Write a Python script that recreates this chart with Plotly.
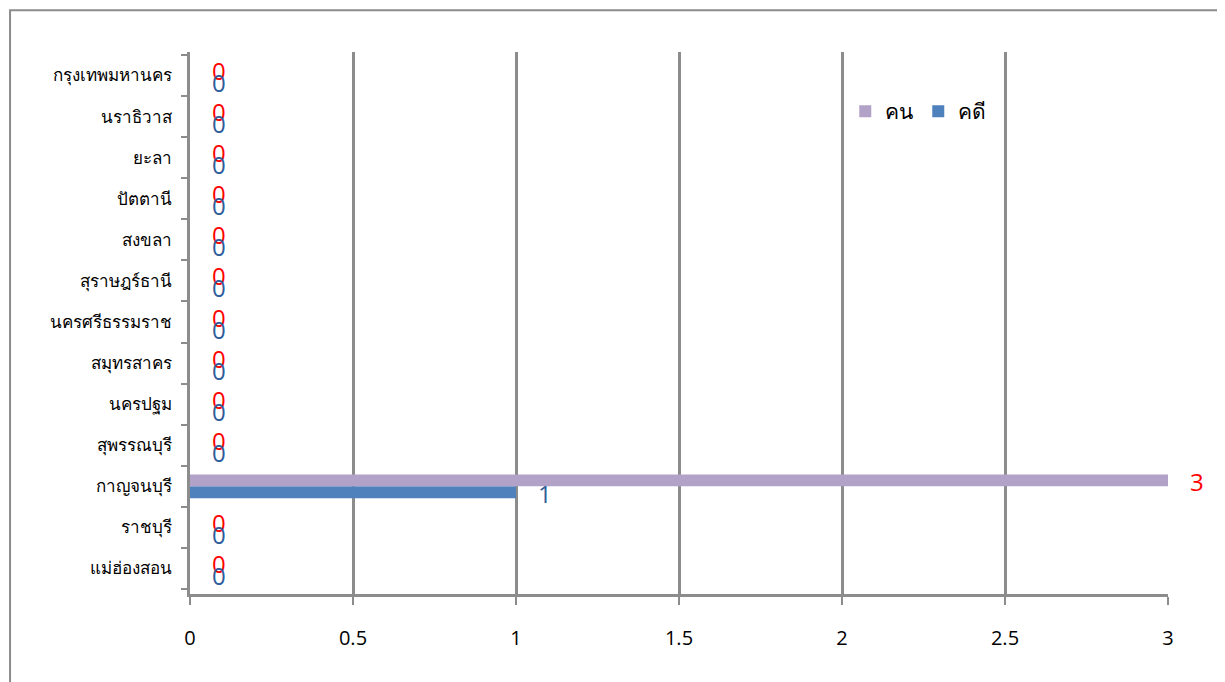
import plotly.graph_objects as go

# Data (categories listed bottom -> top)
provinces = ["แม่ฮ่องสอน", "ราชบุรี", "กาญจนบุรี", "สุพรรณบุรี", "นครปฐม", "สมุทรสาคร",
             "นครศรีธรรมราช", "สุราษฎร์ธานี", "สงขลา", "ปัตตานี", "ยะลา", "นราธิวาส",
             "กรุงเทพมหานคร"]
people = [0, 0, 3, 0, 0, 0, 0, 0, 0, 0, 0, 0, 0]   # คน
cases = [0, 0, 1, 0, 0, 0, 0, 0, 0, 0, 0, 0, 0]    # คดี
x_ticks = [0, 0.5, 1, 1.5, 2, 2.5, 3]

PURPLE = "#B3A2C7"
BLUE = "#4F81BD"
GRID = "#8C8C8C"

fig = go.Figure()
fig.add_trace(go.Bar(y=provinces, x=cases, orientation="h", name="คดี",
                     marker=dict(color=BLUE, line=dict(width=0)), legendrank=2))
fig.add_trace(go.Bar(y=provinces, x=people, orientation="h", name="คน",
                     marker=dict(color=PURPLE, line=dict(width=0)), legendrank=1))

annotations = []
for p, v in zip(provinces, people):
    annotations.append(dict(x=v, y=p, xref="x", yref="y", text=str(v), showarrow=False,
                            xanchor="left", yanchor="middle", xshift=20, yshift=5,
                            font=dict(color="#FF0000", size=24, family="Open Sans")))
for p, v in zip(provinces, cases):
    annotations.append(dict(x=v, y=p, xref="x", yref="y", text=str(v), showarrow=False,
                            xanchor="left", yanchor="middle", xshift=20, yshift=-7,
                            font=dict(color="#2E5C9A", size=24, family="Open Sans")))

# page has an 8px body margin, so the figure is shifted by 8px right/down
fig.update_layout(
    width=1217, height=674,
    margin=dict(l=182, r=57, t=44, b=88),
    paper_bgcolor="white", plot_bgcolor="white",
    barmode="group", bargap=0.42, bargroupgap=0,
    showlegend=True,
    legend=dict(orientation="h", x=0.67, y=0.89, xanchor="left", yanchor="middle",
                font=dict(size=21, color="black"), bgcolor="rgba(0,0,0,0)",
                traceorder="normal", itemwidth=30),
    font=dict(family="Tahoma, Noto Sans, sans-serif", color="black"),
    annotations=annotations,
    shapes=[dict(type="rect", xref="paper", yref="paper",
                 x0=-0.184, x1=1.0545, y0=-0.2, y1=1.077,
                 line=dict(color="#8C8C8C", width=2), fillcolor="rgba(0,0,0,0)", layer="below")],
)
fig.update_xaxes(range=[0, 3], tickvals=x_ticks, ticktext=[str(t) for t in x_ticks],
                 showgrid=True, gridcolor=GRID, gridwidth=3,
                 zeroline=False, showline=True, linecolor=GRID, linewidth=3,
                 ticks="outside", ticklen=8, tickcolor=GRID, tickwidth=2,
                 ticklabelstandoff=16,
                 tickfont=dict(size=20, color="black", family="Open Sans"))
fig.update_yaxes(categoryorder="array", categoryarray=provinces,
                 showgrid=False, showline=True, linecolor=GRID, linewidth=3,
                 ticks="outside", ticklen=6, tickcolor=GRID, tickwidth=2,
                 tickson="boundaries", ticklabelstandoff=12,
                 tickfont=dict(size=17, color="black"))

fig.write_html("out.html")
